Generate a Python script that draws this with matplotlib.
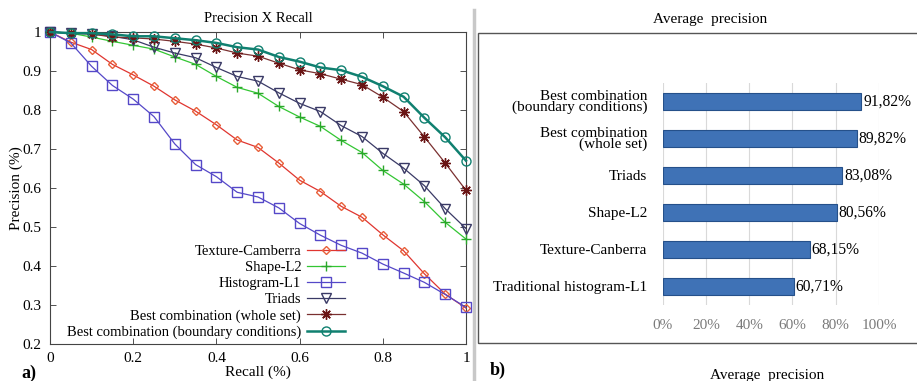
import numpy as np
import matplotlib
matplotlib.use("Agg")
import matplotlib.pyplot as plt
from matplotlib.patches import Rectangle
from matplotlib.lines import Line2D

plt.rcParams['font.family'] = ['Liberation Serif', 'DejaVu Serif']

# ---- data: precision x recall curves ----
recall = np.round(np.arange(0, 1.0001, 0.05), 2)

texture_camberra = [1.0, 0.974, 0.955, 0.917, 0.890, 0.861, 0.826, 0.797, 0.762, 0.723, 0.704,
                    0.664, 0.620, 0.591, 0.553, 0.525, 0.480, 0.439, 0.380, 0.328, 0.292]
shape_l2 = [1.0, 0.997, 0.987, 0.976, 0.966, 0.956, 0.936, 0.917, 0.886, 0.858, 0.843,
            0.809, 0.782, 0.758, 0.722, 0.691, 0.645, 0.610, 0.565, 0.512, 0.469]
histogram_l1 = [1.0, 0.972, 0.912, 0.863, 0.828, 0.783, 0.713, 0.660, 0.629, 0.589, 0.577,
                0.549, 0.509, 0.479, 0.453, 0.433, 0.405, 0.382, 0.358, 0.327, 0.294]
triads = [1.0, 0.997, 0.995, 0.989, 0.980, 0.961, 0.946, 0.934, 0.909, 0.886, 0.874,
          0.844, 0.817, 0.796, 0.760, 0.732, 0.689, 0.651, 0.606, 0.547, 0.496]
best_whole = [1.0, 0.997, 0.995, 0.987, 0.985, 0.982, 0.976, 0.969, 0.959, 0.946, 0.938,
              0.920, 0.903, 0.893, 0.879, 0.865, 0.833, 0.796, 0.731, 0.664, 0.594]
best_boundary = [1.0, 0.997, 0.997, 0.994, 0.989, 0.989, 0.984, 0.979, 0.972, 0.961, 0.955,
                 0.936, 0.924, 0.909, 0.902, 0.885, 0.861, 0.834, 0.780, 0.730, 0.670]

# ---- data: average precision ----
methods = ['Traditional histogram-L1', 'Texture-Canberra', 'Shape-L2', 'Triads',
           'Best combination\n(whole set)', 'Best combination\n(boundary conditions)']
avg_precision = [60.71, 68.15, 80.56, 83.08, 89.82, 91.82]
avg_labels = ['60,71%', '68,15%', '80,56%', '83,08%', '89,82%', '91,82%']
x_ticks = [0, 20, 40, 60, 80, 100]

W, H = 917, 381
fig = plt.figure(figsize=(W / 100, H / 100), dpi=100)


def fx(px):
    return px / W


def fy(py):
    return 1 - py / H


# ---------------- a) Precision X Recall ----------------
ax = fig.add_axes([fx(50), fy(344), fx(466 - 50), (344 - 32) / H])

series = [
    ('Texture-Camberra', texture_camberra, '#e03530', 'D', 4.5, 0.9, '#e8603a'),
    ('Shape-L2', shape_l2, '#33c633', '+', 7.5, 0.9, '#2aa82a'),
    ('Histogram-L1', histogram_l1, '#5548c8', 's', 6.5, 0.9, '#5548c8'),
    ('Triads', triads, '#3a3a66', 'v', 7.5, 0.9, '#3a3a66'),
    ('Best combination (whole set)', best_whole, '#7a3030', (8, 2, 0), 7.5, 0.9, '#6a1515'),
    ('Best combination (boundary conditions)', best_boundary, '#108070', 'o', 6.5, 1.8, '#108070'),
]
handles = []
for name, vals, col, mk, ms, lw, mec in series:
    ax.plot(recall, vals, color=col, lw=lw, marker=mk, ms=ms, mfc='none',
            mec=mec, mew=1.0, clip_on=False, zorder=3)
    handles.append(Line2D([], [], color=col, lw=lw, marker=mk, ms=ms, mfc='none',
                          mec=mec, mew=1.0))

ax.set_xlim(0, 1)
ax.set_ylim(0.2, 1)
ax.set_xticks([0, 0.2, 0.4, 0.6, 0.8, 1])
ax.set_xticklabels(['0', '0.2', '0.4', '0.6', '0.8', '1'])
ax.set_yticks([0.2, 0.3, 0.4, 0.5, 0.6, 0.7, 0.8, 0.9, 1])
ax.set_yticklabels(['0.2', '0.3', '0.4', '0.5', '0.6', '0.7', '0.8', '0.9', '1'])
ax.tick_params(direction='in', top=True, right=True, length=4, width=0.6,
               labelsize=11, pad=6, color='#333333')
for sp in ax.spines.values():
    sp.set_linewidth(0.8)
    sp.set_color('#444444')
ax.set_title('Precision X Recall', fontsize=10.5, pad=7)
ax.set_xlabel('Recall (%)', fontsize=11, labelpad=0)
ax.set_ylabel('Precision (%)', fontsize=11, labelpad=0)

leg = ax.legend(handles, [s[0] for s in series], loc='lower right',
                bbox_to_anchor=(0.73, -0.012), frameon=False, fontsize=10.5,
                markerfirst=False, handlelength=2.6, handletextpad=0.4,
                labelspacing=0.2, borderaxespad=0.2)
for t in leg.get_texts():
    t.set_ha('right')
leg._legend_box.align = 'right'

fig.text(fx(21), fy(373), 'a)', fontsize=13, fontweight='bold', va='center')

# separator between panels
fig.add_artist(Line2D([fx(474), fx(474)], [fy(10), 0], transform=fig.transFigure,
                      color='#c8c8c8', lw=2.5))

# ---------------- b) Average precision ----------------
fig.add_artist(Rectangle((fx(478), fy(343)), 0.5, (343 - 33) / H,
                         transform=fig.transFigure, fill=False,
                         edgecolor='#555555', lw=1.0))
fig.text(fx(710), fy(19), 'Average  precision', fontsize=11, ha='center', va='center')

bx = fig.add_axes([fx(662.7), fy(305), fx(879 - 662.7), (305 - 83) / H])
ypos = np.arange(len(methods))
bx.barh(ypos, avg_precision, height=0.47, color='#3f72b6', edgecolor='#25508a',
        linewidth=0.8, zorder=3)
for y, v, lab in zip(ypos, avg_precision, avg_labels):
    bx.text(v + 0.8, y, lab, va='center', ha='left', fontsize=11.2)
bx.set_xlim(0, 100)
bx.set_ylim(-0.5, len(methods) - 0.5)
bx.set_xticks(x_ticks)
bx.set_xticklabels([f'{t}%' for t in x_ticks], color='#7a7a7a', fontsize=11)
bx.set_yticks(ypos)
bx.set_yticklabels(methods, fontsize=11, linespacing=0.8)
bx.tick_params(length=0, pad=10, axis='x')
bx.tick_params(length=0, pad=11, axis='y')
bx.grid(axis='x', color='#d9d9d9', lw=0.8, zorder=0)
for sp in bx.spines.values():
    sp.set_visible(False)

fig.text(fx(490), fy(370), 'b)', fontsize=13, fontweight='bold', va='center')
fig.text(fx(767), fy(376), 'Average  precision', fontsize=11, ha='center', va='center')

fig.savefig('out.png', dpi=100)
